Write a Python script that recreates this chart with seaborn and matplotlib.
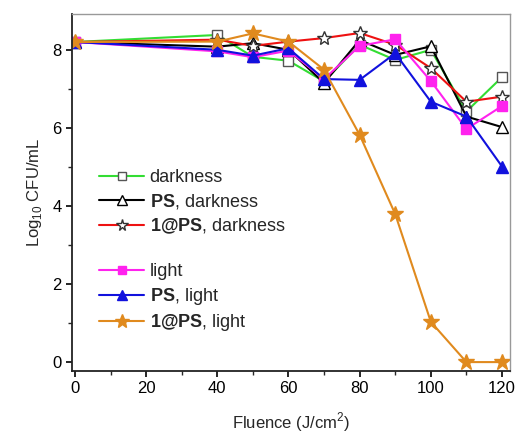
import matplotlib
matplotlib.use("Agg")
import matplotlib.pyplot as plt
import seaborn as sns
import numpy as np
from matplotlib.lines import Line2D
from matplotlib.ticker import MultipleLocator

sns.set_style("ticks")
plt.rcParams['font.family'] = ['Liberation Sans', 'DejaVu Sans']
plt.rcParams['mathtext.fontset'] = 'custom'
plt.rcParams['mathtext.rm'] = 'Liberation Sans'
plt.rcParams['mathtext.bf'] = 'Liberation Sans:bold'

fluence = [0, 40, 50, 60, 70, 80, 90, 100, 110, 120]
dark = [8.2, 8.38, 7.82, 7.72, 7.19, 8.13, 7.74, 8.0, 6.42, 7.3]
ps_dark = [8.2, 8.08, 8.17, 8.0, 7.15, 8.25, 7.87, 8.09, 6.29, 6.02]
ps1_dark = [8.2, 8.26, 8.1, 8.21, 8.3, 8.43, 8.13, 7.53, 6.67, 6.8]
light = [8.2, 7.96, 7.81, 7.98, 7.25, 8.1, 8.27, 7.2, 5.97, 6.56]
ps_light = [8.2, 8.0, 7.85, 8.04, 7.25, 7.23, 7.91, 6.67, 6.29, 5.01]
ps1_light = [8.2, 8.21, 8.42, 8.21, 7.49, 5.82, 3.79, 1.03, 0.0, 0.0]

labels = ["darkness", r"$\mathbf{PS}$, darkness", r"$\mathbf{1@PS}$, darkness",
          "light", r"$\mathbf{PS}$, light", r"$\mathbf{1@PS}$, light"]

fig = plt.figure(figsize=(5.15, 4.34), dpi=100)
ax = fig.add_axes([0.14, 0.145, 0.85, 0.823])

styles = [
    (dark, "#33dd33", "s", "white", "#555555", 7),
    (ps_dark, "black", "^", "white", "black", 8),
    (ps1_dark, "#ee1111", "*", "white", "#333333", 10),
    (light, "#ff22ee", "s", "#ff22ee", "#ff22ee", 7),
    (ps_light, "#1111dd", "^", "#1111dd", "#1111dd", 8),
    (ps1_light, "#e08a1e", "*", "#e08a1e", "#e08a1e", 12),
]
for (vals, col, mk, mfc, mec, ms), lab in zip(styles, labels):
    sns.lineplot(x=fluence, y=vals, ax=ax, color=col, marker=mk, markersize=ms,
                 markerfacecolor=mfc, markeredgecolor=mec, markeredgewidth=1.0,
                 linewidth=1.5, label=lab, legend=False)

ax.set_xlim(-0.8, 122.2)
ax.set_ylim(-0.23, 8.92)
ax.xaxis.set_major_locator(MultipleLocator(20))
ax.xaxis.set_minor_locator(MultipleLocator(10))
ax.yaxis.set_major_locator(MultipleLocator(2))
ax.yaxis.set_minor_locator(MultipleLocator(1))
ax.tick_params(axis='both', which='major', direction='out', length=4, width=1.2, labelsize=12, colors='black')
ax.tick_params(axis='both', which='minor', direction='out', length=3, width=1.0)
for s in ['left', 'bottom']:
    ax.spines[s].set_color('#222222')
    ax.spines[s].set_linewidth(1.3)
for s in ['top', 'right']:
    ax.spines[s].set_color('#999999')
    ax.spines[s].set_linewidth(1.0)

ax.set_xlabel("Fluence (J/cm$^2$)", fontsize=12, labelpad=10)
ax.set_ylabel("Log$_{10}$ CFU/mL", fontsize=12, labelpad=6)

handles, labs = ax.get_legend_handles_labels()
blank = Line2D([], [], linestyle='none', marker=None)
handles = handles[:3] + [blank] + handles[3:]
labs = labs[:3] + [""] + labs[3:]
leg = ax.legend(handles, labs, loc='upper left', bbox_to_anchor=(0.045, 0.585), borderaxespad=0,
                frameon=False, fontsize=13, handlelength=2.5, handletextpad=0.3, labelspacing=0.3,
                markerscale=0.85)

fig.savefig("out.png", dpi=100)
